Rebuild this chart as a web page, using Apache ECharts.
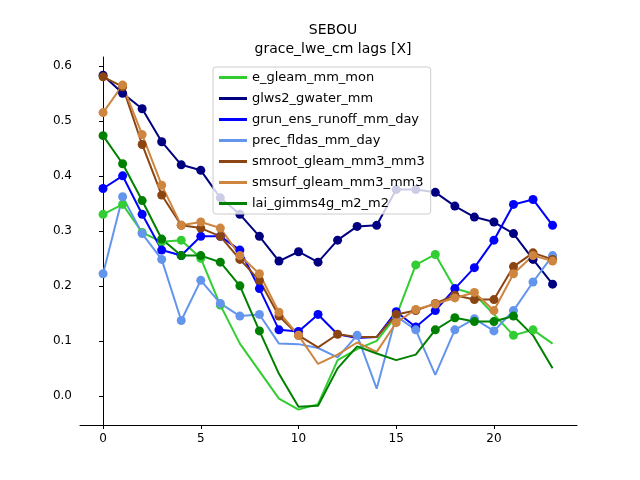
<!DOCTYPE html>
<html>
<head>
<meta charset="utf-8">
<script src="https://cdn.jsdelivr.net/npm/echarts@6/dist/echarts.min.js"></script>
<style>body{margin:0}#c{width:640px;height:480px}</style>
</head>
<body>
<div id="c"></div>
<script>
const chart = echarts.init(document.getElementById("c"));

const lags = [0,1,2,3,4,5,6,7,8,9,10,11,12,13,14,15,16,17,18,19,20,21,22,23];
const names = ["e_gleam_mm_mon","glws2_gwater_mm","grun_ens_runoff_mm_day","prec_fldas_mm_day",
  "smroot_gleam_mm3_mm3","smsurf_gleam_mm3_mm3","lai_gimms4g_m2_m2"];
const colors = ["#32CD32","#000080","#0000FF","#6495ED","#8B4513","#CD853F","#008000"];

const eGleam = [0.33,0.348,0.297,0.28,0.283,0.25,0.165,0.095,0.045,-0.005,-0.025,-0.015,0.065,0.085,0.1,0.145,0.238,0.257,0.195,0.185,0.148,0.11,0.12,0.095];
const glws2 = [0.583,0.55,0.522,0.462,0.42,0.41,0.36,0.33,0.29,0.245,0.262,0.243,0.283,0.308,0.31,0.375,0.375,0.37,0.345,0.325,0.316,0.295,0.248,0.203];
const grun = [0.377,0.40,0.33,0.265,0.255,0.29,0.29,0.265,0.195,0.12,0.117,0.148,0.112,0.105,0.107,0.153,0.125,0.155,0.195,0.233,0.283,0.348,0.357,0.31];
const prec = [0.222,0.362,0.295,0.248,0.137,0.21,0.168,0.145,0.148,0.095,0.094,0.087,0.07,0.11,0.013,0.145,0.12,0.038,0.12,0.14,0.118,0.155,0.207,0.255];
const smroot = [0.58,0.562,0.457,0.365,0.31,0.305,0.29,0.248,0.21,0.145,0.11,0.088,0.112,0.107,0.107,0.148,0.155,0.168,0.183,0.175,0.175,0.235,0.26,0.248];
const smsurf = [0.515,0.565,0.475,0.383,0.31,0.316,0.305,0.255,0.222,0.152,0.11,0.058,0.075,0.097,0.08,0.133,0.157,0.167,0.178,0.188,0.155,0.222,0.255,0.245];
const lai = [0.473,0.422,0.355,0.285,0.255,0.255,0.243,0.2,0.118,0.04,-0.02,-0.018,0.05,0.09,0.077,0.065,0.075,0.12,0.142,0.135,0.135,0.145,0.11,0.05];

// lags shown with a marker
const eGleamMarks = [0,1,2,3,4,5,6,16,17,21,22];
const glws2Marks = lags;
const grunMarks = [0,1,2,3,4,5,6,7,8,9,10,11,15,16,17,18,19,20,21,22,23];
const precMarks = [0,1,2,3,4,5,6,7,8,13,15,16,18,19,20,21,22,23];
const smrootMarks = [0,1,2,3,4,5,6,7,8,9,10,12,15,16,17,18,19,20,21,22,23];
const smsurfMarks = [0,1,2,3,4,5,6,7,8,9,10,15,16,17,18,19,20,21,22,23];
const laiMarks = [0,1,2,3,4,5,6,7,8,17,18,19,20,21];

const allData = [eGleam,glws2,grun,prec,smroot,smsurf,lai];
const allMarks = [eGleamMarks,glws2Marks,grunMarks,precMarks,smrootMarks,smsurfMarks,laiMarks];

const series = names.map((n, k) => ({
  name: n,
  type: "line",
  color: colors[k],
  symbolSize: 9,
  lineStyle: { width: 2 },
  data: allData[k].map((v, i) => ({
    value: [lags[i], v],
    symbol: allMarks[k].includes(i) ? "circle" : "none"
  }))
}));

chart.setOption({
  animation: false,
  title: {
    text: "SEBOU\ngrace_lwe_cm lags [X]",
    left: 328, top: 16, textAlign: "center",
    textStyle: { fontFamily: "DejaVu Sans", fontSize: 14, fontWeight: "normal", lineHeight: 19, color: "#000" }
  },
  grid: { left: 80, right: 63, top: 57, bottom: 55 },
  legend: {
    orient: "vertical", left: 213, top: 67,
    itemWidth: 28, itemHeight: 3, itemGap: 6, icon: "rect",
    backgroundColor: "rgba(255,255,255,0.8)", borderColor: "#ccc", borderWidth: 1, borderRadius: 3,
    padding: [3, 6, 3, 6],
    textStyle: { fontFamily: "DejaVu Sans", fontSize: 13, color: "#000", lineHeight: 15 },
    data: names
  },
  xAxis: {
    type: "value", min: -1.18, max: 24.25,
    splitLine: { show: false },
    axisLine: { onZero: false, lineStyle: { color: "#000" } },
    axisTick: { lineStyle: { color: "#000" }, length: 4 },
    axisLabel: { showMinLabel: false, showMaxLabel: false, color: "#000", fontFamily: "DejaVu Sans", fontSize: 12, margin: 8 }
  },
  yAxis: {
    type: "value", min: -0.053, max: 0.616, splitNumber: 7,
    splitLine: { show: false },
    axisLine: { show: true, lineStyle: { color: "#000" } },
    axisTick: { show: true, lineStyle: { color: "#000" }, length: 4 },
    axisLabel: { showMinLabel: false, showMaxLabel: false, color: "#000", fontFamily: "DejaVu Sans", fontSize: 12,
      formatter: v => v.toFixed(1) }
  },
  series: series
});
</script>
</body>
</html>
